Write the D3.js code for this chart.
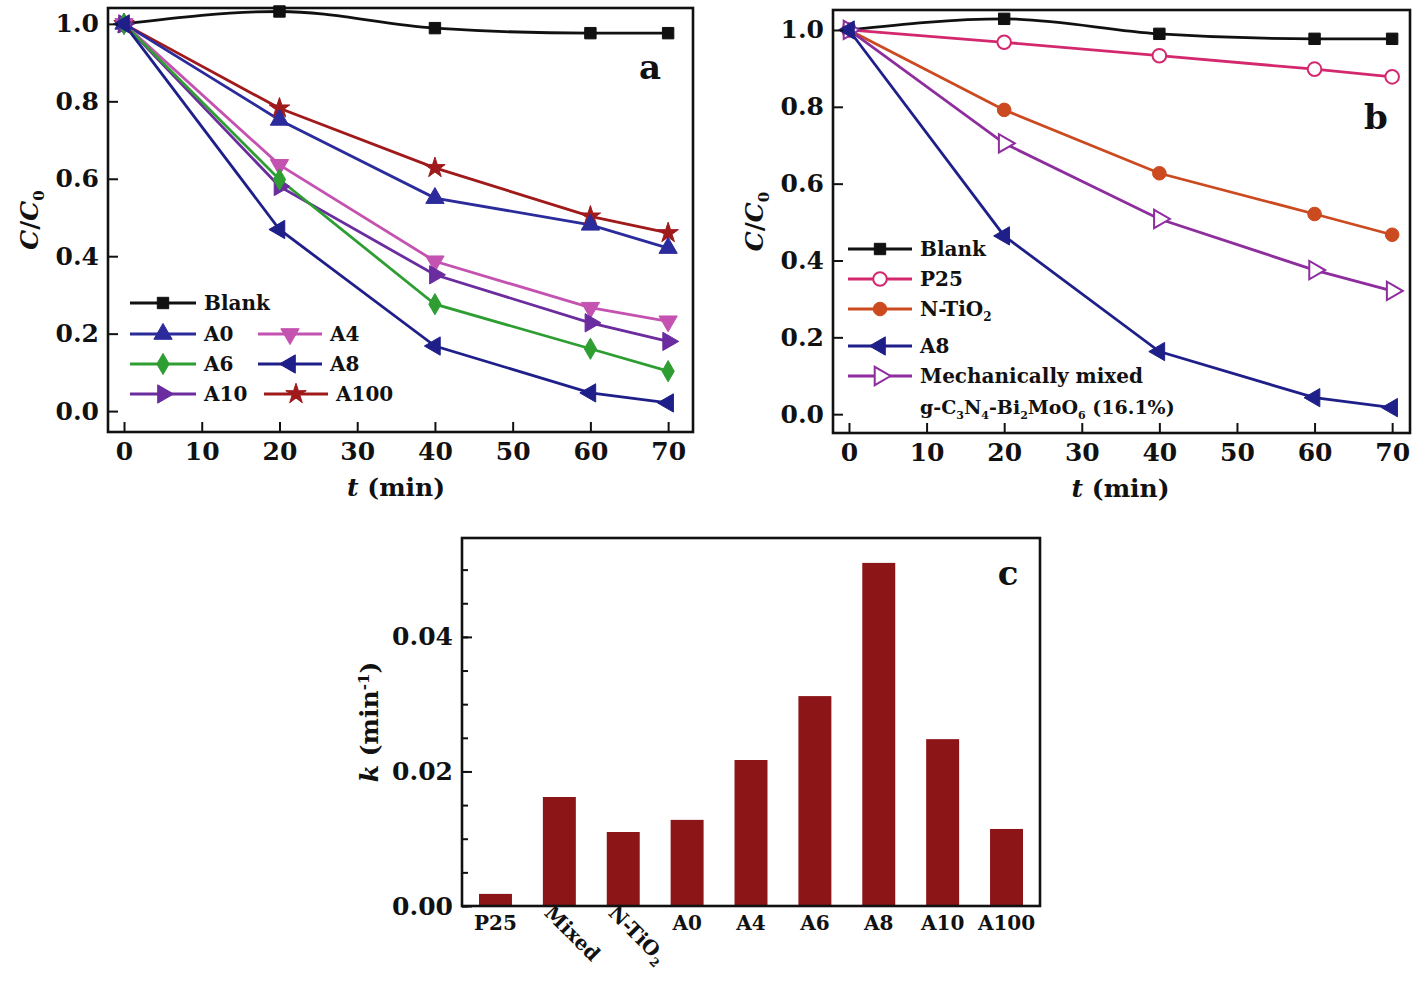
<!DOCTYPE html>
<html><head><meta charset="utf-8">
<script src="https://cdn.jsdelivr.net/npm/d3@7"></script>
<style>
body{margin:0;background:#fff;}
text{font-family:"DejaVu Serif","Liberation Serif",serif;font-weight:bold;fill:#111;}
</style></head>
<body><svg id="c" width="1418" height="985"></svg>
<script>
// ---- data ----
const times = [0, 20, 40, 60, 70];
const xTicks = [0, 10, 20, 30, 40, 50, 60, 70];
const yTicks = [0, 0.2, 0.4, 0.6, 0.8, 1.0];
// panel a
const blankA = [1.0, 1.032, 0.989, 0.976, 0.976];
const a0 = [1.0, 0.752, 0.550, 0.481, 0.421];
const a4 = [1.0, 0.636, 0.387, 0.267, 0.232];
const a6 = [1.0, 0.598, 0.276, 0.161, 0.103];
const a8 = [1.0, 0.469, 0.168, 0.047, 0.021];
const a10 = [1.0, 0.580, 0.352, 0.228, 0.180];
const a100 = [1.0, 0.782, 0.628, 0.503, 0.460];
// panel b
const blankB = [1.0, 1.029, 0.990, 0.977, 0.977];
const p25 = [1.0, 0.968, 0.933, 0.898, 0.878];
const ntio2 = [1.0, 0.792, 0.627, 0.521, 0.467];
const a8b = [1.0, 0.464, 0.163, 0.043, 0.017];
const mixed = [1.0, 0.705, 0.508, 0.375, 0.321];
// panel c
const kCats = ["P25", "Mixed", "N-TiO2", "A0", "A4", "A6", "A8", "A10", "A100"];
const kVals = [0.0018, 0.0162, 0.0110, 0.0128, 0.0217, 0.0312, 0.0510, 0.0248, 0.01145];
const kTicks = [0, 0.02, 0.04];

const svg = d3.select("#c");

function sym(g, type, x, y, color, size, open) {
  let t, rot = 0;
  if (type === "square") t = d3.symbolSquare;
  else if (type === "up") t = d3.symbolTriangle;
  else if (type === "down") { t = d3.symbolTriangle; rot = 180; }
  else if (type === "left") { t = d3.symbolTriangle; rot = -90; }
  else if (type === "right") { t = d3.symbolTriangle; rot = 90; }
  else if (type === "diamond") t = d3.symbolDiamond;
  else if (type === "star") t = d3.symbolStar;
  else t = d3.symbolCircle;
  const s = size || (type === "square" ? 130 : type === "star" ? 130 : type === "diamond" ? 130 : 145);
  g.append("path").attr("d", d3.symbol().type(t).size(s)())
    .attr("transform", `translate(${x},${y}) rotate(${rot})`)
    .attr("fill", open ? "#fff" : color)
    .attr("stroke", color).attr("stroke-width", open ? 2 : 1);
}

function linePanel(opt) {
  const g = svg.append("g");
  const x = d3.scaleLinear().domain(opt.xd).range([opt.l, opt.r]);
  const y = d3.scaleLinear().domain(opt.yd).range([opt.b, opt.t]);
  opt.series.forEach(s => {
    const line = d3.line().x((d, i) => x(times[i])).y(d => y(d))
      .curve(s.smooth ? d3.curveMonotoneX : d3.curveLinear);
    g.append("path").datum(s.v).attr("d", line).attr("fill", "none")
      .attr("stroke", s.c).attr("stroke-width", 2.8);
  });
  opt.series.forEach(s => {
    s.v.forEach((d, i) => sym(g, s.m, x(times[i]), y(d), s.c, null, s.open));
  });
  const ax = g.append("g").attr("transform", `translate(0,${opt.b})`)
    .call(d3.axisBottom(x).tickValues(xTicks).tickSize(-10).tickPadding(10).tickFormat(d3.format("d")));
  const ay = g.append("g").attr("transform", `translate(${opt.l},0)`)
    .call(d3.axisLeft(y).tickValues(yTicks).tickSize(-10).tickPadding(9).tickFormat(d3.format(".1f")));
  [ax, ay].forEach(a => {
    a.select(".domain").remove();
    a.selectAll("line").attr("stroke", "#111").attr("stroke-width", 2);
    a.selectAll("text").style("font-size", "25px").style("font-family", "DejaVu Serif").style("font-weight", "bold").attr("fill", "#111");
  });
  g.append("rect").attr("x", opt.l).attr("y", opt.t).attr("width", opt.r - opt.l).attr("height", opt.b - opt.t)
    .attr("fill", "none").attr("stroke", "#111").attr("stroke-width", 2.6);
  const xt = g.append("text").attr("x", (x(0) + x(70)) / 2).attr("y", opt.b + 64).attr("text-anchor", "middle").style("font-size", "25px");
  xt.append("tspan").attr("font-style", "italic").text("t");
  xt.append("tspan").text(" (min)");
  const yt = g.append("text").attr("transform", `translate(${opt.l - 70},${(opt.t + opt.b) / 2}) rotate(-90)`)
    .attr("text-anchor", "middle").style("font-size", "25px");
  yt.append("tspan").attr("font-style", "italic").text("C");
  yt.append("tspan").text("/");
  yt.append("tspan").attr("font-style", "italic").text("C");
  yt.append("tspan").attr("dy", 6).style("font-size", "15px").text("0");
  g.append("text").attr("x", opt.lx).attr("y", opt.ly).attr("text-anchor", "middle").style("font-size", "34px").text(opt.letter);
  opt.legend.forEach(e => {
    g.append("line").attr("x1", e.x).attr("x2", e.x + e.w).attr("y1", e.y).attr("y2", e.y)
      .attr("stroke", e.s.c).attr("stroke-width", 2.8);
    sym(g, e.s.m, e.x + e.w / 2, e.y, e.s.c, null, e.s.open);
    const t = g.append("text").attr("x", e.x + e.w + 8).attr("y", e.y + 7).style("font-size", "20px");
    if (e.parts) e.parts.forEach(p => {
      const ts = t.append("tspan").text(p[0]);
      if (p[1] === "sub") ts.attr("dy", 5).style("font-size", "12px");
      if (p[1] === "up") ts.attr("dy", -5);
    });
    else t.text(e.s.name);
  });
  return g;
}

// Panel a
const sA = {
  blank: { name: "Blank", v: blankA, c: "#111", m: "square", smooth: true },
  a0: { name: "A0", v: a0, c: "#2b2b9c", m: "up" },
  a4: { name: "A4", v: a4, c: "#c452b0", m: "down" },
  a6: { name: "A6", v: a6, c: "#2e9e33", m: "diamond" },
  a8: { name: "A8", v: a8, c: "#1f1f8a", m: "left" },
  a10: { name: "A10", v: a10, c: "#6a2c9e", m: "right" },
  a100: { name: "A100", v: a100, c: "#a01a1c", m: "star" }
};
linePanel({
  l: 108, r: 693, t: 8, b: 432, xd: [-2.06, 73.2], yd: [-0.054, 1.041],
  series: [sA.blank, sA.a100, sA.a0, sA.a4, sA.a10, sA.a6, sA.a8],
  letter: "a", lx: 650, ly: 79,
  legend: [
    { s: sA.blank, x: 130, y: 303, w: 66 },
    { s: sA.a0, x: 130, y: 334, w: 66 },
    { s: sA.a4, x: 258, y: 334, w: 64 },
    { s: sA.a6, x: 130, y: 364, w: 66 },
    { s: sA.a8, x: 258, y: 364, w: 64 },
    { s: sA.a10, x: 130, y: 394, w: 66 },
    { s: sA.a100, x: 264, y: 394, w: 64 }
  ]
});

// Panel b
const sB = {
  blank: { name: "Blank", v: blankB, c: "#111", m: "square", smooth: true },
  p25: { name: "P25", v: p25, c: "#d4286e", m: "circle", open: true },
  nt: { name: "N-TiO2", v: ntio2, c: "#cc4a1f", m: "circle" },
  a8: { name: "A8", v: a8b, c: "#1f1f8a", m: "left" },
  mx: { name: "Mechanically mixed", v: mixed, c: "#8e2d9e", m: "right", open: true }
};
const gb = linePanel({
  l: 833, r: 1410, t: 10, b: 433, xd: [-2.06, 72.3], yd: [-0.049, 1.052],
  series: [sB.blank, sB.p25, sB.nt, sB.mx, sB.a8],
  letter: "b", lx: 1376, ly: 129,
  legend: [
    { s: sB.blank, x: 848, y: 249, w: 64 },
    { s: sB.p25, x: 848, y: 279, w: 64 },
    { s: sB.nt, x: 848, y: 309, w: 64, parts: [["N-TiO"], ["2", "sub"]] },
    { s: sB.a8, x: 848, y: 346, w: 64 },
    { s: sB.mx, x: 848, y: 376, w: 64 }
  ]
});
{
  const t = gb.append("text").attr("x", 920).attr("y", 414).style("font-size", "19px").style("font-weight", "600");
  const parts = [["g-C"], ["3", "s"], ["N", "u"], ["4", "s"], ["-Bi", "u"], ["2", "s"], ["MoO", "u"], ["6", "s"], [" (16.1%)", "u"]];
  parts.forEach(p => {
    const ts = t.append("tspan").text(p[0]);
    if (p[1] === "s") ts.attr("dy", 5).style("font-size", "11px");
    if (p[1] === "u") ts.attr("dy", -5);
  });
}

// Panel c
{
  const g = svg.append("g");
  const L = 462, R = 1040, T = 538, B = 906;
  const x = d3.scaleBand().domain(kCats).range([L, R]).paddingInner(0.484).paddingOuter(0.266);
  const y = d3.scaleLinear().domain([0, 0.0547]).range([B, T]);
  g.selectAll("rect.bar").data(kVals).enter().append("rect").attr("class", "bar")
    .attr("x", (d, i) => x(kCats[i])).attr("width", x.bandwidth())
    .attr("y", d => y(d)).attr("height", d => B - y(d)).attr("fill", "#8b1517");
  const minor = d3.range(0, 0.0546, 0.005);
  const am = g.append("g").attr("transform", `translate(${L},0)`)
    .call(d3.axisLeft(y).tickValues(minor).tickSize(-6).tickFormat(""));
  const aM = g.append("g").attr("transform", `translate(${L},0)`)
    .call(d3.axisLeft(y).tickValues(kTicks).tickSize(-10).tickPadding(9).tickFormat(d3.format(".2f")));
  [am, aM].forEach(a => {
    a.select(".domain").remove();
    a.selectAll("line").attr("stroke", "#111").attr("stroke-width", 2);
    a.selectAll("text").style("font-size", "25px").style("font-family", "DejaVu Serif").style("font-weight", "bold").attr("fill", "#111");
  });
  g.append("rect").attr("x", L).attr("y", T).attr("width", R - L).attr("height", B - T)
    .attr("fill", "none").attr("stroke", "#111").attr("stroke-width", 2.6);
  kCats.forEach((c, i) => {
    const cx = x(c) + x.bandwidth() / 2;
    if (c === "Mixed") {
      g.append("text").attr("transform", `translate(${cx - 16},${B + 8}) rotate(45)`).style("font-size", "20px").text("Mixed");
    } else if (c === "N-TiO2") {
      const t = g.append("text").attr("transform", `translate(${cx - 16},${B + 8}) rotate(45)`).style("font-size", "20px");
      t.append("tspan").text("N-TiO");
      t.append("tspan").attr("dy", 5).style("font-size", "12px").text("2");
    } else {
      g.append("text").attr("x", cx).attr("y", B + 24).attr("text-anchor", "middle").style("font-size", "20px").text(c);
    }
  });
  const yt = g.append("text").attr("transform", `translate(${L - 84},${722}) rotate(-90)`)
    .attr("text-anchor", "middle").style("font-size", "25px");
  yt.append("tspan").attr("font-style", "italic").text("k");
  yt.append("tspan").text(" (min");
  yt.append("tspan").attr("dy", -9).style("font-size", "15px").text("-1");
  yt.append("tspan").attr("dy", 9).text(")");
  g.append("text").attr("x", 1008).attr("y", 585).attr("text-anchor", "middle").style("font-size", "34px").text("c");
}
</script></body></html>
